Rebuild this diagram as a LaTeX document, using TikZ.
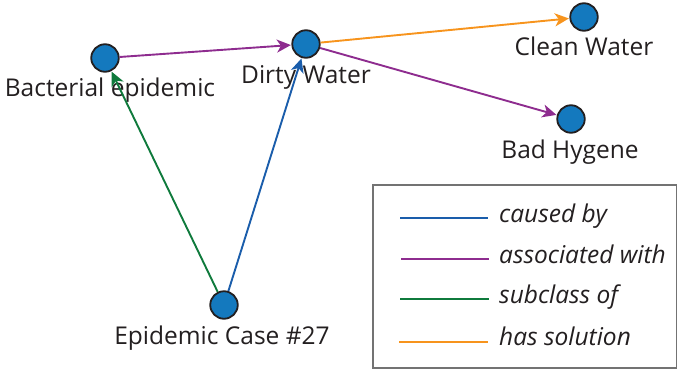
\documentclass[tikz,border=0pt]{standalone}
\usepackage{fontspec}
\setmainfont{Open Sans}
\usetikzlibrary{arrows.meta}
\definecolor{nodefill}{HTML}{1479BE}
\definecolor{ink}{HTML}{231F20}
\definecolor{causedc}{HTML}{1A5DAB}
\definecolor{assocc}{HTML}{8E2C8F}
\definecolor{subc}{HTML}{0F7A3C}
\definecolor{solc}{HTML}{F7941D}
\tikzset{
  concept/.style={circle, draw=ink, line width=1.8pt, fill=nodefill, minimum size=27.5pt, inner sep=0pt},
  lbl/.style={text=ink, font=\fontsize{24.5}{26}\selectfont, inner sep=0pt, anchor=base},
  rel/.style={line width=1.9pt, -{Stealth[length=14pt, width=13pt, inset=4pt]}, shorten >=0.5pt},
  legline/.style={line width=1.9pt},
  legtext/.style={text=ink, font=\fontsize{24.5}{26}\selectfont\itshape, inner sep=0pt, anchor=base west},
}
\begin{document}
\begin{tikzpicture}[x=1pt, y=-1pt]
\useasboundingbox (0,0) rectangle (677,369);

% concepts
\node[concept] (bact) at (105,58) {};
\node[concept] (dirty) at (306,44) {};
\node[concept] (clean) at (584,17) {};
\node[concept] (hyg) at (571,119) {};
\node[concept] (epi) at (224,305) {};

% labels
\node[lbl] (lbact) at (110,96) {Bacterial epidemic};
\node[lbl] (ldirty) at (306,83) {Dirty Water};
\node[lbl] (lclean) at (584,56) {Clean Water};
\node[lbl] (lhyg) at (570,158) {Bad Hygene};
\node[lbl] (lepi) at (222,344) {Epidemic Case \#27};

% relations
\draw[rel, color=assocc] (bact) -- (dirty);
\draw[rel, color=solc] (dirty) -- (clean);
\draw[rel, color=assocc] (dirty) -- (hyg);
\draw[rel, color=subc] (epi) -- (bact);
\draw[rel, color=causedc] (epi) -- (dirty);

% legend
\node[draw=black!55, line width=2pt, minimum width=304pt, minimum height=183pt, anchor=north west, inner sep=0pt] (legend) at (372,184) {};
\coordinate (l1a) at (400,218); \coordinate (l1b) at (488,218);
\coordinate (l2a) at (401,259); \coordinate (l2b) at (489,259);
\coordinate (l3a) at (400,299); \coordinate (l3b) at (489,299);
\coordinate (l4a) at (399,342); \coordinate (l4b) at (488,342);
\draw[legline, causedc] (l1a) -- (l1b);
\draw[legline, assocc] (l2a) -- (l2b);
\draw[legline, subc] (l3a) -- (l3b);
\draw[legline, solc] (l4a) -- (l4b);
\node[legtext] (t1) at (499,222) {caused by};
\node[legtext] (t2) at (499,263) {associated with};
\node[legtext] (t3) at (499,303) {subclass of};
\node[legtext] (t4) at (499,345) {has solution};
\end{tikzpicture}
\end{document}
